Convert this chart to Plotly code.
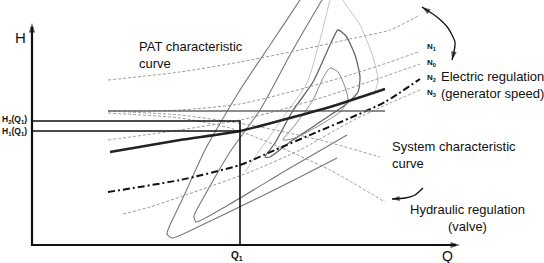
import plotly.graph_objects as go

# ---- schematic data (Q, H in drawing units) ----
# PAT characteristic curves at different rotational speeds
pat_top_q = [108, 180, 240, 300, 350, 390, 420]
pat_top_h = [183, 191, 201, 213, 224, 233, 248]
pat_n1_q = [108, 180, 240, 290, 340, 390, 418]
pat_n1_h = [152, 153, 159, 171, 185, 201, 211]
pat_n0_q = [108, 180, 240, 280, 330, 380, 420]
pat_n0_h = [123, 133, 143, 153, 168, 185, 199]
pat_n2_q = [108, 180, 240, 275, 317, 350, 385, 420]
pat_n2_h = [71, 83, 98, 113, 131, 145, 161, 184]
pat_n3_q = [123, 150, 200, 250, 300, 350, 390, 420]
pat_n3_h = [49, 56, 73, 91, 113, 141, 160, 173]
# thick operating curve
oper_q = [110, 180, 240, 290, 330, 385]
oper_h = [111, 123, 132, 145, 156, 174]
# horizontal reference line
ref_q = [108, 385]
ref_h = [152, 152]
# system characteristic curves (valve regulation)
sys_a_q = [108, 180, 250, 320, 380]
sys_a_h = [152, 148, 138, 123, 106]
sys_b_q = [108, 180, 230, 263, 330, 385]
sys_b_h = [150, 145, 135, 123, 93, 61]
# efficiency hill curves
hill1_q = [305, 300, 270, 240, 205, 182, 170, 167, 172, 200, 260, 300, 337]
hill1_h = [271, 263, 218, 173, 113, 63, 38, 29, 25, 37, 66, 86, 105]
hill2_q = [327, 322, 290, 260, 230, 205, 194, 196, 230, 290, 347]
hill2_h = [271, 263, 208, 153, 111, 68, 47, 41, 59, 95, 128]
hill3_q = [265, 275, 292, 313, 330, 338, 346, 355, 360, 358, 345, 320, 290, 270, 265]
hill3_h = [106, 120, 151, 181, 218, 233, 227, 208, 186, 171, 158, 141, 121, 106, 106]
hill4_q = [283, 295, 313, 323, 330, 338, 345, 348, 340, 320, 295, 283]
hill4_h = [123, 138, 163, 185, 195, 191, 176, 163, 151, 138, 125, 123]
hill5l_q = [245, 260, 285, 307, 320, 330, 333]
hill5l_h = [91, 113, 148, 180, 223, 263, 275]
hill5r_q = [340, 343, 360, 373, 378, 374]
hill5r_h = [275, 263, 238, 206, 183, 168]
# operating point Q1 with heads H1, H2
q1 = 240
h1 = 132
h2 = 142
# axes
axis_q0 = 32
axis_h0 = 18
axis_q_end = 460
axis_h_end = 240
# regulation arrows
elec_q = [422, 437, 448, 455, 454, 452]
elec_h = [256, 246, 235, 221, 211, 203]
hyd_q = [423, 415, 405, 392]
hyd_h = [75, 68, 65, 64]

FONT = "Arial, Liberation Sans, sans-serif"
fig = go.Figure()


def line(q, h, color="#888", width=1.0, dash="solid", smooth=True):
    fig.add_trace(go.Scatter(x=q, y=h, mode="lines", hoverinfo="skip",
                             line=dict(color=color, width=width, dash=dash,
                                       shape="spline" if smooth else "linear",
                                       smoothing=0.6)))


def head(q_from, h_from, q_to, h_to, size=9, color="#111"):
    fig.add_trace(go.Scatter(x=[q_from, q_to], y=[h_from, h_to], mode="markers", hoverinfo="skip",
                             marker=dict(symbol="arrow", size=[0, size], angleref="previous",
                                         color=color, line=dict(width=0))))


dot = "3px,2px"
# hill curves
line(hill1_q, hill1_h, "#777", 1.1)
line(hill2_q, hill2_h, "#777", 1.1)
line(hill3_q, hill3_h, "#666", 1.3)
line(hill4_q, hill4_h, "#888", 1.0)
line(hill5l_q, hill5l_h, "#c4c4c4", 1.0)
line(hill5r_q, hill5r_h, "#c4c4c4", 1.0)
# PAT curves
line(pat_top_q, pat_top_h, "#999", 1.0, dot)
line(pat_n1_q, pat_n1_h, "#999", 1.0, dot)
line(pat_n0_q, pat_n0_h, "#999", 1.0, dot)
line(pat_n3_q, pat_n3_h, "#999", 1.0, dot)
line(pat_n2_q, pat_n2_h, "#111", 2.0, "7px,3px,2px,3px")
# system curves
line(sys_a_q, sys_a_h, "#999", 1.0, dot)
line(sys_b_q, sys_b_h, "#999", 1.0, dot)
# reference and operating curves
line(ref_q, ref_h, "#666", 1.5, smooth=False)
line(oper_q, oper_h, "#222", 2.4)
# Q1 / H1 / H2 construction lines
line([axis_q0, q1, q1], [h2, h2, axis_h0], "#111", 1.6, smooth=False)
line([axis_q0, q1], [h1, h1], "#111", 1.6, smooth=False)
# axes
line([axis_q0, axis_q0, axis_q_end - 4], [axis_h_end - 4, axis_h0, axis_h0], "#111", 2.2, smooth=False)
head(axis_q0, axis_h0, axis_q0, axis_h_end, 10)
head(axis_q0, axis_h0, axis_q_end, axis_h0, 10)
# regulation arrows
line(elec_q, elec_h, "#111", 1.3)
line(hyd_q, hyd_h, "#111", 1.3)
head(elec_q[1], elec_h[1], elec_q[0], elec_h[0], 9)
head(elec_q[-2], elec_h[-2], elec_q[-1], elec_h[-1], 9)
head(hyd_q[-2], hyd_h[-2], hyd_q[-1], hyd_h[-1], 8)


def text(x, y, s, size=13, xanchor="center", align="center", bold=False):
    if bold:
        s = "<b>" + s + "</b>"
    fig.add_annotation(x=x, y=y, xref="x", yref="y", text=s, showarrow=False,
                       xanchor=xanchor, yanchor="middle", align=align,
                       font=dict(family=FONT, size=size, color="#111"))


text(20, 226, "H", 15)
text(447, 7, "Q", 14)
text(237, 7, "Q<sub>1</sub>", 10, bold=True)
text(14, 144, "H<sub>2</sub>(Q<sub>1</sub>)", 8.5, bold=True)
text(14, 132, "H<sub>1</sub>(Q<sub>1</sub>)", 8.5, bold=True)
text(137, 208, "PAT characteristic<br>curve", 13, "left", "left")
text(492, 178, "Electric regulation<br>(generator speed)", 13)
text(390, 108, "System characteristic<br>curve", 13, "left", "left")
text(467, 45, "Hydraulic regulation<br>(valve)", 13)
text(425, 216, "N<sub>1</sub>", 8, "left", bold=True)
text(425, 200, "N<sub>0</sub>", 8, "left", bold=True)
text(425, 185, "N<sub>2</sub>", 8, "left", bold=True)
text(425, 170, "N<sub>3</sub>", 8, "left", bold=True)

fig.update_layout(
    width=544, height=263, margin=dict(l=0, r=0, t=0, b=0),
    paper_bgcolor="white", plot_bgcolor="white", showlegend=False,
    xaxis=dict(range=[0, 544], visible=False, fixedrange=True),
    yaxis=dict(range=[0, 263], visible=False, fixedrange=True),
)
fig.write_html("out.html", config={"displayModeBar": False},
               post_script="document.body.style.margin='0';document.body.style.overflow='hidden';")
